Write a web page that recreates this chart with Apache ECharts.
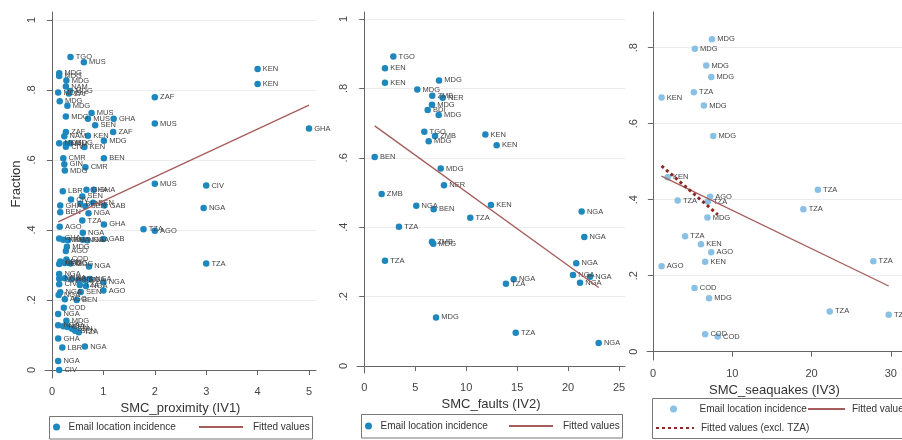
<!DOCTYPE html>
<html><head><meta charset="utf-8">
<script src="https://cdn.jsdelivr.net/npm/echarts@6/dist/echarts.min.js"></script>
<style>html,body{margin:0;padding:0;background:#fff}#c{width:902px;height:440px}</style>
</head><body><div id="c"></div>
<script>
// ---------- DATA ----------
const iv1X = [0.36,0.62,4.00,4.00,0.14,0.14,0.28,0.27,0.35,0.33,0.12,2.00,0.15,0.30,0.77,0.27,0.70,1.20,0.84,2.00,5.00,0.27,1.19,0.24,0.70,1.01,0.14,0.27,0.35,0.27,0.63,0.22,1.01,0.24,0.65,0.25,2.00,3.00,0.21,0.67,0.81,0.59,0.37,0.16,0.16,2.95,0.71,1.02,0.55,0.80,0.65,0.59,1.01,0.15,1.78,2.00,0.60,0.14,0.22,0.31,0.60,0.69,1.00,0.29,0.27,0.28,0.16,0.14,0.25,0.36,0.72,3.00,0.14,0.14,0.25,0.38,0.51,0.62,0.74,1.00,0.14,0.54,0.66,1.00,0.16,0.56,0.13,0.25,0.48,0.23,0.12,0.28,0.12,0.22,0.30,0.39,0.45,0.52,0.12,0.20,0.64,0.12,0.14];
const iv1Y = [0.894,0.879,0.860,0.817,0.848,0.840,0.827,0.810,0.797,0.790,0.793,0.779,0.768,0.755,0.734,0.724,0.718,0.718,0.699,0.704,0.690,0.680,0.680,0.668,0.669,0.655,0.648,0.646,0.648,0.638,0.637,0.605,0.605,0.588,0.579,0.570,0.532,0.527,0.511,0.515,0.515,0.496,0.487,0.470,0.451,0.463,0.448,0.470,0.475,0.478,0.468,0.427,0.416,0.409,0.402,0.398,0.392,0.376,0.372,0.371,0.372,0.371,0.374,0.352,0.340,0.316,0.310,0.303,0.306,0.304,0.296,0.304,0.274,0.261,0.262,0.259,0.257,0.258,0.260,0.251,0.245,0.243,0.240,0.227,0.222,0.223,0.214,0.202,0.200,0.178,0.160,0.141,0.128,0.125,0.123,0.118,0.112,0.108,0.090,0.064,0.067,0.026,0.000];
const iv1Lbl = ["TGO","MUS","KEN","KEN","MDG","MDG","MDG","NAM","MDG","ZAF","MDG","ZAF","MDG","MDG","MUS","MDG","MUS","GHA","SEN","MUS","GHA","ZAF","ZAF","NAM","KEN","MDG","MDG","NAM","MDG","CIV","KEN","CMR","BEN","GIN","CMR","MDG","MUS","CIV","LBR","GHA","GHA","SEN","CIV","GHA","BEN","NGA","NGA","GAB","BEN","BEN","SEN","TZA","GHA","AGO","TZA","AGO","NGA","GHA","NAM","GHA","NGA","NGA","GAB","MDG","AGO","COD","BEN","MDG","MDG","MDG","NGA","TZA","NGA","NGA","NGA","SEN","SEN","NGA","NGA","NGA","CIV","TZA","NGA","AGO","NGA","SEN","NGA","AGO","BEN","COD","NGA","MDG","NGA","NGA","SEN","SEN","SEN","TZA","GHA","LBR","NGA","NGA","CIV"];
const iv1FitX = [0.12, 5.00];
const iv1FitY = [0.423, 0.757];

const iv2X = [2.85,2.03,2.03,7.33,5.20,6.67,7.69,6.64,6.22,7.30,5.89,6.94,6.32,11.88,12.99,1.02,7.50,7.82,1.70,5.10,6.81,12.43,21.33,10.40,3.40,6.64,6.77,21.59,2.03,20.80,20.48,22.15,21.17,14.66,13.90,7.04,14.86,23.00];
const iv2Y = [0.892,0.858,0.816,0.823,0.797,0.779,0.773,0.753,0.738,0.723,0.675,0.663,0.648,0.667,0.636,0.602,0.569,0.521,0.496,0.462,0.452,0.464,0.445,0.427,0.401,0.358,0.352,0.372,0.303,0.296,0.262,0.257,0.240,0.250,0.237,0.140,0.096,0.066];
const iv2Lbl = ["TGO","KEN","KEN","MDG","MDG","ZMB","NER","MDG","BDI","MDG","TGO","ZMB","MDG","KEN","KEN","BEN","MDG","NER","ZMB","NGA","BEN","KEN","NGA","TZA","TZA","ZMB","MDG","NGA","TZA","NGA","NGA","NGA","NGA","NGA","TZA","MDG","TZA","NGA"];
const iv2FitX = [1.02, 23.00];
const iv2FitY = [0.692, 0.226];

const iv3X = [7.43,5.27,6.70,7.35,5.14,1.07,6.41,7.59,1.84,20.80,7.18,3.10,6.90,18.97,6.86,4.04,6.04,7.34,6.57,27.80,1.07,5.23,7.06,22.30,29.74,6.57,8.16];
const iv3Y = [0.822,0.797,0.753,0.723,0.683,0.669,0.648,0.568,0.459,0.426,0.408,0.398,0.395,0.375,0.353,0.304,0.283,0.262,0.237,0.238,0.225,0.168,0.141,0.106,0.097,0.046,0.040];
const iv3Lbl = ["MDG","MDG","MDG","MDG","TZA","KEN","MDG","MDG","KEN","TZA","AGO","TZA","TZA","TZA","MDG","TZA","KEN","AGO","KEN","TZA","AGO","COD","MDG","TZA","TZA","COD","COD"];
const iv3FitX = [1.07, 29.74];
const iv3FitY = [0.462, 0.173];
const iv3FitExX = [1.07, 8.16];
const iv3FitExY = [0.489, 0.361];

const yTicks = [0, 0.2, 0.4, 0.6, 0.8, 1];
const yTicks3 = [0, 0.2, 0.4, 0.6, 0.8];
const xTicks1 = [0, 1, 2, 3, 4, 5];
const xTicks2 = [0, 5, 10, 15, 20, 25];
const xTicks3 = [0, 10, 20, 30];
const xTitles = ["SMC_proximity (IV1)", "SMC_faults (IV2)", "SMC_seaquakes (IV3)"];
const yTitle = "Fraction";
const nmScatter = "Email location incidence";
const nmFit = "Fitted values";
const nmFitEx = "Fitted values (excl. TZA)";

// ---------- STYLE / LAYOUT ----------
const FONT = "Liberation Sans, Arial, sans-serif";
const C_DARK = "#1d87be", C_LIGHT = "#88c1e5", C_FIT = "#a65c5c", C_EX = "#8e2626";
const AX = "#666";
const fmtY = v => v === 0 ? "0" : v === 1 ? "1" : String(+v.toFixed(1)).replace(/^0/, "");

function xAx(gi, min, max, ticks, title, margin, gap) {
  return {
    type: "value", gridIndex: gi, min, max,
    axisLine: {show: true, lineStyle: {color: AX, width: 1}},
    axisTick: {show: true, length: 5, lineStyle: {color: AX}, customValues: ticks},
    axisLabel: {customValues: ticks, margin, fontSize: 11, color: "#444", fontFamily: FONT},
    splitLine: {show: false},
    name: title, nameLocation: "middle", nameGap: gap,
    nameTextStyle: {fontSize: 13, color: "#333", fontFamily: FONT}
  };
}
function yAx(gi, min, max, ticks, title) {
  const o = {
    type: "value", gridIndex: gi, min, max,
    axisLine: {show: true, lineStyle: {color: AX, width: 1}},
    axisTick: {show: true, length: 5, lineStyle: {color: AX}, customValues: ticks},
    axisLabel: {customValues: ticks, rotate: 90, margin: 8, fontSize: 11, color: "#444", fontFamily: FONT, formatter: fmtY},
    splitLine: {show: true, lineStyle: {color: "#ececec", width: 1}}
  };
  if (title) {
    o.name = title; o.nameLocation = "middle"; o.nameGap = 22; o.nameRotate = 90;
    o.nameTextStyle = {fontSize: 13, color: "#333", fontFamily: FONT, padding: [0, 0, 0, 22]};
  }
  return o;
}
function scat(xs, ys, ls, gi, color) {
  return {
    type: "scatter", name: nmScatter, xAxisIndex: gi, yAxisIndex: gi,
    data: xs.map((x, i) => [x, ys[i], ls[i]]),
    symbolSize: 6.5, itemStyle: {color, opacity: 1},
    label: {show: true, position: "right", distance: 2, formatter: p => p.value[2],
            fontSize: 7.5, color: "#444", fontFamily: FONT},
    emphasis: {disabled: true}, z: 2
  };
}
function fit(xs, ys, gi, name, ls) {
  return {
    type: "line", name, xAxisIndex: gi, yAxisIndex: gi,
    data: xs.map((x, i) => [x, ys[i]]), symbol: "none", showSymbol: false,
    lineStyle: ls, itemStyle: {color: ls.color}, emphasis: {disabled: true}, z: 3, silent: true
  };
}
function leg(left, top, name, w, h, extraPad, color, isLine) {
  const item = {name};
  if (isLine) item.itemStyle = {opacity: 0, color: "transparent", borderWidth: 0};
  else item.itemStyle = {color};
  return {
    data: [item], left, top, orient: "horizontal", padding: 0,
    itemWidth: w, itemHeight: h, selectedMode: false,
    textStyle: {fontSize: 10, color: "#333", fontFamily: FONT, padding: [0, 0, 0, extraPad]}
  };
}

const chart = echarts.init(document.getElementById("c"), null, {renderer: "canvas"});
chart.setOption({
  animation: false,
  backgroundColor: "#fff",
  textStyle: {fontFamily: FONT},
  grid: [
    {left: 45, top: 12, width: 271, height: 366},
    {left: 357, top: 12, width: 268, height: 361},
    {left: 647, top: 12, width: 263, height: 348}
  ],
  xAxis: [
    xAx(0, -0.1362, 5.136, xTicks1, xTitles[0], 8, 17),
    xAx(1, -0.716, 25.584, xTicks2, xTitles[1], 9.5, 21),
    xAx(2, -0.771, 31.42, xTicks3, xTitles[2], 8, 17)
  ],
  yAxis: [
    yAx(0, -0.0229, 1.0229, yTicks, yTitle),
    yAx(1, -0.0202, 1.0202, yTicks, null),
    yAx(2, -0.0218, 0.894, yTicks3, null)
  ],
  legend: [
    leg(53, 422, nmScatter, 14, 7, 0, C_DARK, false),
    leg(198, 422, nmFit, 44, 10, 5, C_FIT, true),
    leg(365, 421, nmScatter, 14, 7, 0, C_DARK, false),
    leg(508, 421, nmFit, 44, 10, 5, C_FIT, true),
    leg(670, 404, nmScatter, 14, 7, 14, C_LIGHT, false),
    leg(807, 404, nmFit, 37, 10, 2, C_FIT, true),
    leg(655, 423, nmFitEx, 38, 10, 2, C_EX, true)
  ],
  graphic: [
    {type: "rect", shape: {x: 49.5, y: 416.5, width: 263, height: 22.5}, style: {fill: "none", stroke: "#777", lineWidth: 1}, silent: true},
    {type: "rect", shape: {x: 361.5, y: 414.5, width: 261, height: 23.5}, style: {fill: "none", stroke: "#777", lineWidth: 1}, silent: true},
    {type: "rect", shape: {x: 652.5, y: 398.5, width: 270, height: 40}, style: {fill: "none", stroke: "#777", lineWidth: 1}, silent: true}
  ],
  series: [
    scat(iv1X, iv1Y, iv1Lbl, 0, C_DARK),
    fit(iv1FitX, iv1FitY, 0, nmFit, {color: C_FIT, width: 1.3}),
    scat(iv2X, iv2Y, iv2Lbl, 1, C_DARK),
    fit(iv2FitX, iv2FitY, 1, nmFit, {color: C_FIT, width: 1.3}),
    scat(iv3X, iv3Y, iv3Lbl, 2, C_LIGHT),
    fit(iv3FitX, iv3FitY, 2, nmFit, {color: C_FIT, width: 1.3}),
    fit(iv3FitExX, iv3FitExY, 2, nmFitEx, {color: C_EX, width: 3, type: [3, 3], cap: "butt"})
  ]
});
</script></body></html>
